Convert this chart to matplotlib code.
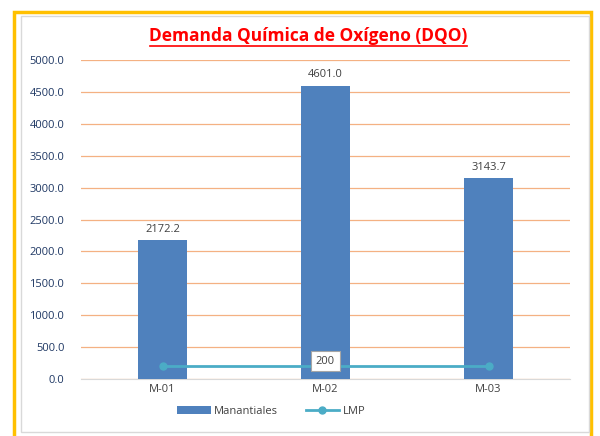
import matplotlib.pyplot as plt
from matplotlib.patches import Rectangle

categorias = ["M-01", "M-02", "M-03"]
manantiales = [2172.2, 4601.0, 3143.7]
lmp = [200, 200, 200]
yticks = [0, 500, 1000, 1500, 2000, 2500, 3000, 3500, 4000, 4500, 5000]

plt.rcParams['font.family'] = ['Open Sans', 'DejaVu Sans']

fig = plt.figure(figsize=(6, 4.36), dpi=100)
ax = fig.add_axes([0.135, 0.131, 0.815, 0.731])

x = range(len(categorias))
barras = ax.bar(x, manantiales, width=0.3, color='#4F81BD', label='Manantiales', zorder=3)
linea, = ax.plot(x, lmp, color='#4BACC6', linewidth=2, marker='o', markersize=5,
                 label='LMP', zorder=4)

for xi, v in zip(x, manantiales):
    ax.text(xi, v + 90, f"{v:.1f}", ha='center', va='bottom', fontsize=8, color='#404040')
ax.text(1, lmp[1] + 80, "200", ha='center', va='center', fontsize=8, color='#404040',
        bbox=dict(boxstyle='square,pad=0.4', facecolor='white', edgecolor='#A6A6A6', linewidth=0.8),
        zorder=5)

ax.set_ylim(0, 5000)
ax.set_xlim(-0.5, 2.5)
ax.set_yticks(yticks)
ax.set_yticklabels([f"{t:.1f}" for t in yticks], fontsize=8, color='#1F3864')
ax.set_xticks(list(x))
ax.set_xticklabels(categorias, fontsize=8, color='#404040')
ax.tick_params(length=0, pad=4)
ax.tick_params(axis='y', pad=12)
ax.yaxis.grid(True, color='#F4B183', linewidth=0.9, zorder=0)
for s in ['top', 'right', 'left']:
    ax.spines[s].set_visible(False)
ax.spines['bottom'].set_color('#D9D9D9')
ax.spines['bottom'].set_zorder(2)

fig.text(0.513, 0.917, "Demanda Química de Oxígeno (DQO)", ha='center', va='center',
         fontsize=12.5, fontweight='bold', color='#FF0000')
fig.add_artist(plt.Line2D([0.25, 0.778], [0.895, 0.895], color='#FF0000', linewidth=1.2))

fig.legend([barras, linea], ['Manantiales', 'LMP'], loc='center',
           bbox_to_anchor=(0.452, 0.057), ncol=2, frameon=False,
           fontsize=8, labelcolor='#404040', handlelength=3, columnspacing=2.5,
           handletextpad=0.3)

fig.add_artist(Rectangle((14 / 600, -0.05), 577 / 600, 1 - 12 / 436 + 0.05,
                         transform=fig.transFigure, fill=False, edgecolor='#FFC000', linewidth=2.5))
fig.add_artist(Rectangle((21 / 600, 4 / 436), 568 / 600, 1 - 20 / 436,
                         transform=fig.transFigure, fill=False, edgecolor='#D9D9D9', linewidth=1))

fig.savefig("out.png", dpi=100)
